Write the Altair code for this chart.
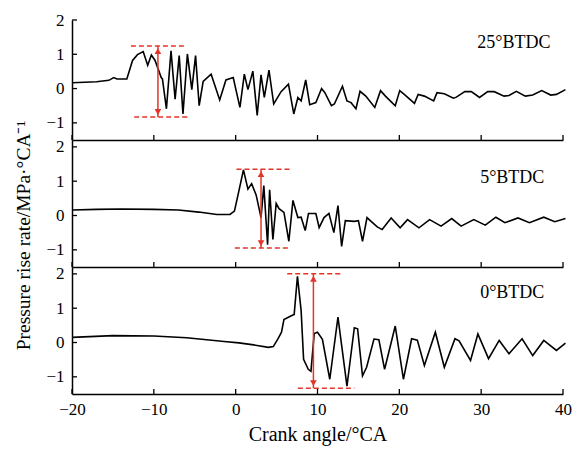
import altair as alt
import pandas as pd

# ---------------- data ----------------
x25 = [-20, -17, -15.5, -14.9, -14.5, -13.3, -12.6, -12.0, -11.3, -10.75, -10.3, -9.85, -9.1, -8.95,
       -8.46, -7.9, -7.4, -6.9, -6.44, -5.9, -5.36, -4.9, -4.46, -3.97, -3.0, -1.95, -1.19, -0.3,
       0.52, 1.06, 1.5, 2.1, 2.63, 3.1, 3.5, 4.07, 4.65, 5.55, 6.45, 7.1, 7.6, 8.0, 8.56, 9.05,
       9.8, 10.5, 10.9, 11.7, 12.06, 13.05, 13.6, 14.1, 14.7, 15.2, 15.9, 17.0, 17.7, 18.3, 19.5,
       20.05, 20.6, 21.85, 22.3, 23.06, 24.2, 24.6, 25.5, 26.6, 26.97, 28.0, 28.8, 29.8, 30.8,
       31.6, 32.8, 33.4, 34.3, 35.4, 36.3, 37.4, 38.5, 39.2, 40.3]
y25 = [0.17, 0.2, 0.24, 0.32, 0.28, 0.28, 0.82, 0.99, 1.08, 0.68, 0.98, 0.82, 0.32, 0.28,
       -0.59, 1.10, -0.31, 0.96, -0.74, 1.01, -0.03, 0.96, -0.5, 0.21, 0.42, -0.33, 0.25, 0.32,
       -0.55, 0.42, -0.03, 0.51, -0.78, 0.40, -0.26, 0.54, -0.45, -0.09, 0.13, -0.74, -0.26, -0.36, 0.25, -0.47,
       -0.41, 0.0, -0.12, -0.5, -0.45, 0.07, -0.36, -0.41, -0.59, -0.08, -0.22, -0.55, -0.06, -0.22, -0.5,
       -0.06, -0.17, -0.43, -0.17, -0.22, -0.36, -0.12, -0.15, -0.28, -0.25, -0.09, -0.09, -0.26, -0.09,
       -0.09, -0.22, -0.2, -0.08, -0.22, -0.19, -0.06, -0.19, -0.17, -0.03]

x5 = [-20, -17, -14, -10, -7, -4.5, -2.3, -0.7, -0.15, 0.39, 0.95, 1.5, 1.95, 2.5, 3.1, 3.44,
      3.9, 4.15, 4.55, 4.95, 5.3, 5.9, 6.5, 7.0, 7.6, 8.0, 8.5, 8.9, 9.8, 10.2, 10.8, 11.4, 12.0,
      12.5, 12.95, 13.4, 14.5, 15.0, 15.5, 16.05, 16.55, 17.3, 17.9, 19.0, 20.1, 21.0, 22.4, 23.7,
      25.1, 26.4, 27.55, 29.1, 30.5, 31.8, 32.9, 34.5, 35.9, 37.65, 39.0, 40.3]
y5 = [0.16, 0.18, 0.19, 0.18, 0.16, 0.1, 0.03, 0.03, 0.13, 0.71, 1.33, 0.77, 0.93, 0.6, -0.06, 0.87,
      -0.85, 0.75, -0.7, 0.35, 0.2, 0.09, -0.75, 0.44, -0.06, -0.05, -0.44, 0.06, 0.06, -0.35, -0.06, 0.06, -0.5,
      0.29, -0.9, -0.15, -0.17, -0.15, -0.75, -0.06, -0.17, -0.33, -0.41, -0.07, -0.36, -0.12, -0.36, -0.12,
      -0.31, -0.09, -0.31, -0.12, -0.28, -0.05, -0.21, -0.07, -0.21, -0.05, -0.18, -0.09]

x0 = [-20, -15, -10, -6, -1.4, 0.4, 2.2, 4.0, 4.6, 5.2, 5.6, 5.9, 6.8, 7.15, 7.55, 8.0, 8.3, 8.87,
      9.2, 9.6, 10.0, 10.6, 11.5, 12.5, 13.6, 14.5, 14.9, 15.5, 16.0, 16.9, 17.5, 18.2, 19.5, 20.5,
      21.5, 22.2, 23.06, 24.4, 25.5, 26.8, 27.3, 28.7, 29.6, 30.9, 32.2, 33.4, 35.0, 36.3, 37.65,
      39.2, 40.3]
y0 = [0.15, 0.2, 0.19, 0.14, 0.03, -0.01, -0.07, -0.14, -0.12, 0.12, 0.3, 0.67, 0.78, 0.82, 1.93, 0.93, -0.49, -0.78,
      -0.84, 0.26, 0.3, 0.09, -1.07, 0.74, -1.27, 0.43, 0.4, -0.97, -0.72, 0.1, 0.08, -0.78, 0.48, -1.07,
      0.11, 0.07, -0.67, 0.3, -0.72, 0.11, 0.05, -0.52, 0.25, -0.47, 0.06, -0.33, 0.11, -0.38, 0.06,
      -0.23, -0.02]

labels = ["25°BTDC", "5°BTDC", "0°BTDC"]
label_x = [34.0, 33.8, 33.8]
label_y = [1.33, 1.1, 1.44]

# red range annotations (per panel)
arrow_x = [-9.5, 3.1, 9.5]
top_y = [1.24, 1.35, 2.0]
top_x1 = [-12.8, 0.1, 6.3]
top_x2 = [-6.0, 6.8, 13.1]
bot_y = [-0.83, -0.95, -1.33]
bot_x1 = [-12.4, -0.1, 7.6]
bot_x2 = [-5.7, 6.5, 14.5]

y_domains = [[-1.5, 2.0], [-1.5, 2.2], [-1.5, 2.2]]
heights = [120, 127, 127]
x_ticks = [-20, -10, 0, 10, 20, 30, 40]
y_ticks = [-1, 0, 1, 2]

W = 491
FONT = "Liberation Serif"
RED = "#e2352a"
xs_list = [x25, x5, x0]
ys_list = [y25, y5, y0]


def panel(i):
    h = heights[i]
    bottom = i == 2
    xscale = alt.Scale(domain=[-20, 40], nice=False, zero=False)
    yscale = alt.Scale(domain=y_domains[i], nice=False, zero=False)
    df = pd.DataFrame({"x": xs_list[i], "y": ys_list[i]})

    xaxis = alt.Axis(values=x_ticks, labels=bottom, ticks=False, grid=False, labelFlush=False,
                     domainColor="black", domainWidth=1.5,
                     labelFont=FONT, labelFontSize=17, labelColor="black", labelPadding=7,
                     titleFont=FONT, titleFontSize=20, titleFontWeight="normal",
                     titleColor="black", titlePadding=7)
    yaxis_kwargs = dict(values=y_ticks, ticks=False, grid=False, domainColor="black",
                        domainWidth=1.5, labelFont=FONT, labelFontSize=17, labelColor="black",
                        labelPadding=8, labelFlush=False)
    if i == 1:
        yaxis = alt.Axis(titleFont=FONT,
                         titleFontSize=19.5, titleFontWeight="normal", titleColor="black",
                         titleX=-49, titleY=95, titleBaseline="middle", titleAngle=-90,
                         **yaxis_kwargs)
        ytitle = "Pressure rise rate/MPa·°CA⁻¹"
    else:
        yaxis = alt.Axis(**yaxis_kwargs)
        ytitle = None
    xtitle = "Crank angle/°CA" if bottom else None

    def X(field="x"):
        return alt.X(f"{field}:Q", scale=xscale, axis=xaxis, title=xtitle)

    def Y(field="y"):
        return alt.Y(f"{field}:Q", scale=yscale, axis=yaxis, title=ytitle)

    line = alt.Chart(df).mark_line(color="black", strokeWidth=1.6, strokeJoin="miter").encode(
        x=X(), y=Y())

    xt = alt.Chart(pd.DataFrame({"x": x_ticks})).mark_rule(color="black", strokeWidth=1.3).encode(
        x=X(), y=alt.value(h), y2=alt.value(h - 5))
    yt = alt.Chart(pd.DataFrame({"y": [v for v in y_ticks if v <= y_domains[i][1]]})).mark_rule(
        color="black", strokeWidth=1.3).encode(
        y=Y(), x=alt.value(0), x2=alt.value(5))

    dash = pd.DataFrame({
        "x": [top_x1[i], bot_x1[i]], "x2": [top_x2[i], bot_x2[i]],
        "y": [top_y[i], bot_y[i]],
    })
    dashes = alt.Chart(dash).mark_rule(color=RED, strokeWidth=1.5, strokeDash=[5, 3]).encode(
        x=X(), x2="x2:Q", y=Y())
    arr = pd.DataFrame({"x": [arrow_x[i]], "y": [top_y[i]], "y2": [bot_y[i]]})
    shaft = alt.Chart(arr).mark_rule(color=RED, strokeWidth=1.5).encode(
        x=X(), y=Y(), y2="y2:Q")
    head_up = alt.Chart(arr).mark_point(shape="triangle-up", filled=True, color=RED,
                                        opacity=1, size=45, yOffset=5).encode(
        x=X(), y=Y())
    arr2 = pd.DataFrame({"x": [arrow_x[i]], "y": [bot_y[i]]})
    head_dn = alt.Chart(arr2).mark_point(shape="triangle-down", filled=True, color=RED,
                                         opacity=1, size=45, yOffset=-5).encode(
        x=X(), y=Y())
    lab = alt.Chart(pd.DataFrame({"x": [label_x[i]], "y": [label_y[i]], "t": [labels[i]]})).mark_text(
        font=FONT, fontSize=18, color="black", align="center", baseline="middle").encode(
        x=X(), y=Y(), text="t:N")
    return alt.layer(line, xt, yt, dashes, shaft, head_up, head_dn, lab).properties(
        width=W, height=h)


chart = alt.vconcat(panel(0), panel(1), panel(2), spacing=0, bounds="flush").properties(
    padding={"left": 12, "top": 11, "right": 5, "bottom": 5},
    background="white",
).configure_view(stroke=None)

chart.save("out.html", embed_options={"renderer": "svg", "actions": False})
